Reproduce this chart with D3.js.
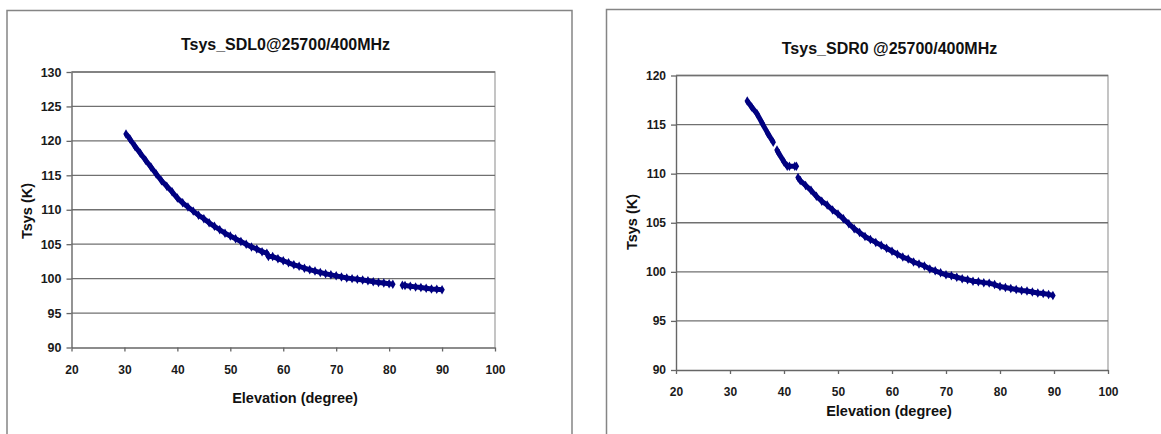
<!DOCTYPE html>
<html>
<head>
<meta charset="utf-8">
<script src="https://cdn.jsdelivr.net/npm/d3@7"></script>
<style>
  html, body { margin: 0; padding: 0; background: #fff; }
  svg { display: block; font-family: "Liberation Sans", Arial, sans-serif; }
</style>
</head>
<body>
<svg id="chart" width="1161" height="434"></svg>
<script>
// ---- Data ----
const xTicks = [20, 30, 40, 50, 60, 70, 80, 90, 100];

const sdl0Title = "Tsys_SDL0@25700/400MHz";
const sdl0YTicks = [90, 95, 100, 105, 110, 115, 120, 125, 130];
const sdl0Elevation = [30.3, 31, 32, 33, 34, 35, 36, 37, 38, 39, 40, 41, 42, 43, 44, 45, 46, 47, 48, 49,
  50, 51, 52, 53, 54, 55, 56, 56.9, 57.2, 58, 59, 60, 61, 62, 63, 64, 65, 66, 67, 68, 69,
  70, 71, 72, 73, 74, 75, 76, 77, 78, 79, 80, 80.7, 82.5, 83, 84, 85, 86, 87, 88, 89, 90];
const sdl0Tsys = [121.0, 120.3, 119.2, 118.2, 117.2, 116.2, 115.2, 114.2, 113.4, 112.6, 111.7, 111.0, 110.4,
  109.8, 109.2, 108.7, 108.1, 107.6, 107.1, 106.6, 106.2, 105.8, 105.4, 105.0, 104.6, 104.3, 103.9,
  103.7, 103.2, 103.2, 102.9, 102.6, 102.3, 102.0, 101.8, 101.5, 101.3, 101.1, 100.9, 100.7, 100.55,
  100.4, 100.25, 100.1, 100.0, 99.9, 99.8, 99.7, 99.55, 99.45, 99.35, 99.25, 99.2, 99.05, 99.0,
  98.9, 98.8, 98.7, 98.6, 98.5, 98.45, 98.4];
const sdl0SegmentStarts = [82.5];

const sdr0Title = "Tsys_SDR0 @25700/400MHz";
const sdr0YTicks = [90, 95, 100, 105, 110, 115, 120];
const sdr0Elevation = [33.2, 34, 35, 36, 37, 38, 38.7, 39, 40, 40.6, 41, 42, 42.3, 42.6, 43, 44, 45, 46, 47,
  48, 49, 50, 51, 52, 53, 54, 55, 56, 57, 58, 59, 60, 61, 62, 63, 64, 65, 66, 67, 68, 69, 70,
  71, 72, 73, 74, 75, 76, 77, 78, 79, 80, 81, 82, 83, 84, 85, 86, 87, 88, 89, 89.8];
const sdr0Tsys = [117.4, 116.8, 116.1, 115.1, 114.1, 113.2, 112.4, 112.1, 111.2, 110.75, 110.75, 110.75,
  110.75, 109.6, 109.3, 108.8, 108.3, 107.7, 107.2, 106.8, 106.3, 105.9, 105.4, 104.9, 104.4, 104.0,
  103.6, 103.3, 103.0, 102.7, 102.4, 102.1, 101.8, 101.5, 101.3, 101.0, 100.8, 100.6, 100.3, 100.1,
  99.9, 99.7, 99.6, 99.45, 99.3, 99.2, 99.05, 99.0, 98.9, 98.85, 98.7, 98.5, 98.4, 98.3, 98.2, 98.1,
  98.05, 97.95, 97.85, 97.8, 97.7, 97.6];
const sdr0SegmentStarts = [38.7, 42.6];

const xLabel = "Elevation (degree)";
const yLabel = "Tsys (K)";

// ---- Layout ----
const svg = d3.select("#chart");
const navy = "#000080";

const panels = [
  {
    title: sdl0Title, yTicks: sdl0YTicks, xs: sdl0Elevation, ys: sdl0Tsys, starts: sdl0SegmentStarts,
    frame: { x0: 7, y0: 10.5, x1: 572 },
    plot: { left: 71.5, right: 495, top: 72, bottom: 347.5 },
    titlePos: [285.5, 49.5], xTitlePos: [295, 403], yTitlePos: [32, 211],
    yFont: 12.5, xLabelBaseline: 374
  },
  {
    title: sdr0Title, yTicks: sdr0YTicks, xs: sdr0Elevation, ys: sdr0Tsys, starts: sdr0SegmentStarts,
    frame: { x0: 606.5, y0: 9.5, x1: 1170 },
    plot: { left: 676, right: 1108, top: 75.5, bottom: 370 },
    titlePos: [889.5, 54], xTitlePos: [889, 415.5], yTitlePos: [637, 222],
    yFont: 12, xLabelBaseline: 396
  }
];

panels.forEach(p => {
  const g = svg.append("g");

  // chart frame (bottom runs off the picture)
  g.append("path")
    .attr("d", `M${p.frame.x0},440 V${p.frame.y0} H${p.frame.x1} V440`)
    .attr("fill", "none").attr("stroke", "#858585").attr("stroke-width", 1.5);

  const x = d3.scaleLinear().domain([20, 100]).range([p.plot.left, p.plot.right]);
  const y = d3.scaleLinear().domain([90, d3.max(p.yTicks)]).range([p.plot.bottom, p.plot.top]);

  // plot area border (top/right, light grey)
  g.append("path")
    .attr("d", `M${p.plot.left},${p.plot.top} H${p.plot.right} V${p.plot.bottom}`)
    .attr("fill", "none").attr("stroke", "#a6a6a6").attr("stroke-width", 1.3);

  // gridlines
  g.append("g").selectAll("line").data(p.yTicks.slice(1)).join("line")
    .attr("x1", p.plot.left).attr("x2", p.plot.right)
    .attr("y1", d => y(d)).attr("y2", d => y(d))
    .attr("stroke", "#707070").attr("stroke-width", 1.3);

  // y axis
  const yAxis = g.append("g").attr("transform", `translate(${p.plot.left},0)`)
    .call(d3.axisLeft(y).tickValues(p.yTicks).tickSize(5).tickPadding(5).tickSizeOuter(0));
  yAxis.select(".domain").attr("stroke", "#666").attr("stroke-width", 1.4);
  yAxis.selectAll(".tick line").attr("stroke", "#666").attr("stroke-width", 1.3);
  yAxis.selectAll("text").attr("font-size", p.yFont).attr("font-weight", "bold").attr("fill", "#1a1a1a");

  // x axis
  const xAxis = g.append("g").attr("transform", `translate(0,${p.plot.bottom})`)
    .call(d3.axisBottom(x).tickValues(xTicks).tickSize(4).tickPadding(4).tickSizeOuter(0));
  xAxis.select(".domain").attr("stroke", "#666").attr("stroke-width", 1.4);
  xAxis.selectAll(".tick line").attr("stroke", "#666").attr("stroke-width", 1.3);
  xAxis.selectAll("text")
    .attr("font-size", 12).attr("font-weight", "bold").attr("fill", "#1a1a1a")
    .attr("dy", null).attr("y", p.xLabelBaseline - p.plot.bottom);

  // data: split into segments at recorded gaps
  const pts = p.xs.map((v, i) => [v, p.ys[i]]);
  const segments = [];
  pts.forEach(pt => {
    if (segments.length === 0 || p.starts.includes(pt[0])) segments.push([]);
    segments[segments.length - 1].push(pt);
  });
  const line = d3.line().x(d => x(d[0])).y(d => y(d[1]));
  g.append("g").selectAll("path").data(segments).join("path")
    .attr("d", line)
    .attr("fill", "none").attr("stroke", navy)
    .attr("stroke-width", 5).attr("stroke-linejoin", "round").attr("stroke-linecap", "butt");
  const diamond = d3.symbol().type(d3.symbolDiamond).size(26);
  g.append("g").selectAll("path").data(pts).join("path")
    .attr("d", diamond)
    .attr("transform", d => `translate(${x(d[0])},${y(d[1])})`)
    .attr("fill", navy);

  // titles
  g.append("text").attr("x", p.titlePos[0]).attr("y", p.titlePos[1])
    .attr("text-anchor", "middle").attr("font-size", 16).attr("font-weight", "bold").attr("fill", "#111")
    .text(p.title);
  g.append("text").attr("x", p.xTitlePos[0]).attr("y", p.xTitlePos[1])
    .attr("text-anchor", "middle").attr("font-size", 14.5).attr("font-weight", "bold").attr("fill", "#111")
    .text(xLabel);
  g.append("text")
    .attr("transform", `translate(${p.yTitlePos[0]},${p.yTitlePos[1]}) rotate(-90)`)
    .attr("text-anchor", "middle").attr("font-size", 14.5).attr("font-weight", "bold").attr("fill", "#111")
    .text(yLabel);
});
</script>
</body>
</html>
